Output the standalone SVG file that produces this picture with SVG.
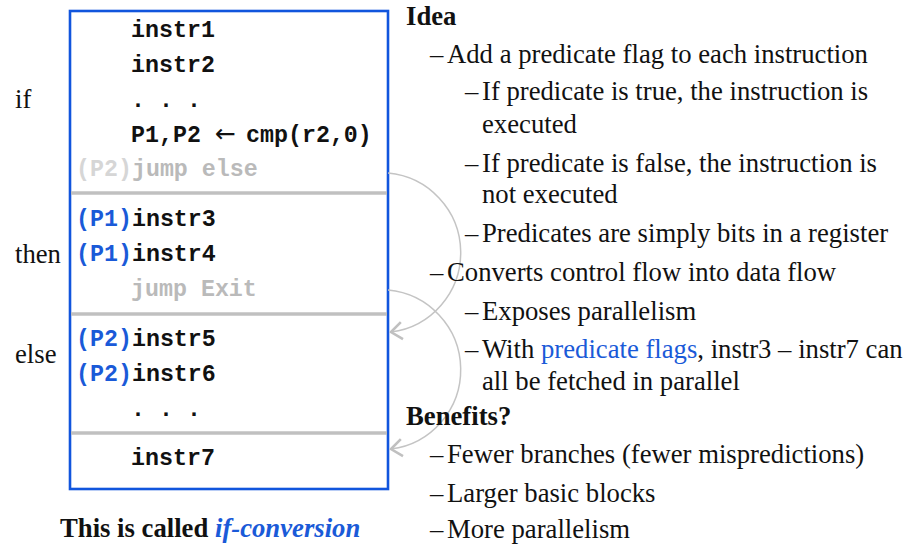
<svg xmlns="http://www.w3.org/2000/svg" width="911" height="544" viewBox="0 0 911 544">
<style>
.code{font-family:"Liberation Mono","Courier New",monospace;font-weight:bold;font-size:23.3px;fill:#111}
.pred{fill:#1a5ad8}
.dim1{fill:#d6d6d6}
.dim2{fill:#bababa}
.lbl{font-family:"Liberation Serif","Times New Roman",serif;font-size:26.7px;fill:#111}
.bold{font-weight:bold}
.blue{fill:#1a5ad8}
.sep{stroke:#c0c0c0;stroke-width:3.5}
.conn{fill:none;stroke:#c4c4c4;stroke-width:1.5}
</style>
<defs>
<marker id="open" markerUnits="userSpaceOnUse" markerWidth="30" markerHeight="30" viewBox="-15 -15 30 30" refX="0" refY="0" orient="auto" overflow="visible">
<path d="M-11,-8.5 L0,0 L-11,8.5" fill="none" stroke="#c0c0c0" stroke-width="2.6" stroke-linejoin="miter"/>
</marker>
</defs>
<rect width="911" height="544" fill="#ffffff"/>

<g id="side-labels" class="lbl">
<text x="15" y="108">if</text>
<text x="15" y="263">then</text>
<text x="15" y="363">else</text>
</g>

<g id="code-box">
<rect x="70" y="11" width="318" height="478" fill="#ffffff" stroke="#1155dd" stroke-width="2.6"/>
<g id="block-if" class="code">
<text x="131" y="37">instr1</text>
<text x="131" y="72">instr2</text>
<text x="131" y="107">. . .</text>
<text x="131" y="142">P1,P2<tspan x="215" font-family="DejaVu Sans,sans-serif" font-weight="normal" font-size="25">←</tspan><tspan x="246">cmp(r2,0)</tspan></text>
<text x="76" y="176"><tspan class="dim1">(P2)</tspan><tspan class="dim2">jump else</tspan></text>
</g>
<line class="sep" x1="71" y1="193" x2="387" y2="193"/>
<g id="block-then" class="code">
<text x="76" y="226"><tspan class="pred">(P1)</tspan>instr3</text>
<text x="76" y="261"><tspan class="pred">(P1)</tspan>instr4</text>
<text x="131" y="296" class="dim2">jump Exit</text>
</g>
<line class="sep" x1="71" y1="314" x2="387" y2="314"/>
<g id="block-else" class="code">
<text x="76" y="346"><tspan class="pred">(P2)</tspan>instr5</text>
<text x="76" y="381"><tspan class="pred">(P2)</tspan>instr6</text>
<text x="131" y="416">. . .</text>
</g>
<line class="sep" x1="71" y1="433" x2="387" y2="433"/>
<g id="block-exit" class="code">
<text x="131" y="465">instr7</text>
</g>
</g>

<g id="connectors">
<path class="conn" d="M388,173 A80,80 0 0 1 391,332" marker-end="url(#open)"/>
<path class="conn" d="M388,290 A80,80 0 0 1 391,449" marker-end="url(#open)"/>
</g>

<g id="caption" class="lbl bold">
<text x="60" y="537">This is called <tspan class="blue" font-style="italic">if-conversion</tspan></text>
</g>

<g id="notes" class="lbl">
<text x="406" y="25" class="bold">Idea</text>
<text y="63"><tspan x="430">–</tspan><tspan x="447">Add a predicate flag to each instruction</tspan></text>
<text y="100"><tspan x="465">–</tspan><tspan x="482">If predicate is true, the instruction is</tspan></text>
<text x="482" y="133">executed</text>
<text y="172"><tspan x="465">–</tspan><tspan x="482">If predicate is false, the instruction is</tspan></text>
<text x="482" y="203">not executed</text>
<text y="242"><tspan x="465">–</tspan><tspan x="482">Predicates are simply bits in a register</tspan></text>
<text y="281"><tspan x="430">–</tspan><tspan x="447">Converts control flow into data flow</tspan></text>
<text y="320"><tspan x="465">–</tspan><tspan x="482">Exposes parallelism</tspan></text>
<text y="358"><tspan x="465">–</tspan><tspan x="482">With </tspan><tspan class="blue">predicate flags</tspan>, instr3 – instr7 can</text>
<text x="482" y="390">all be fetched in parallel</text>
<text x="406" y="425" class="bold">Benefits?</text>
<text y="463"><tspan x="430">–</tspan><tspan x="447">Fewer branches (fewer mispredictions)</tspan></text>
<text y="502"><tspan x="430">–</tspan><tspan x="447">Larger basic blocks</tspan></text>
<text y="538"><tspan x="430">–</tspan><tspan x="447">More parallelism</tspan></text>
</g>
</svg>
